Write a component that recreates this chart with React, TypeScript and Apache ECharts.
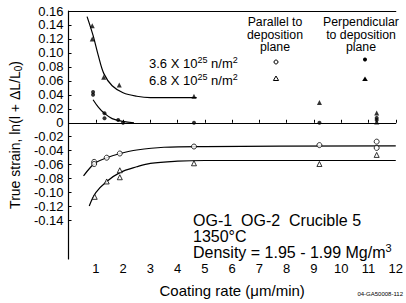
import React, { useEffect, useRef } from "react";
import * as echarts from "echarts";

const FONT = "Liberation Sans, Arial, sans-serif";

const yTicks = [0.16, 0.14, 0.12, 0.1, 0.08, 0.06, 0.04, 0.02, 0, -0.02, -0.04, -0.06, -0.08, -0.1, -0.12, -0.14];
const xTicks = [1, 2, 3, 4, 5, 6, 7, 8, 9, 10, 11, 12];

// Perpendicular to deposition plane, 6.8e25 (filled triangles)
const perp68 = [[0.87, 0.139], [0.87, 0.12], [1.29, 0.065], [1.86, 0.054], [4.6, 0.038], [9.2, 0.029], [11.3, 0.014], [11.3, 0.001]];
// Perpendicular, 3.6e25 (filled circles)
const perp36 = [[0.9, 0.044], [0.9, 0.04], [1.32, 0.0135], [1.32, 0.0065], [1.82, 0.004], [2.0, 0.0], [4.6, 0.0], [9.2, 0.0], [11.3, 0.007], [11.3, 0.004]];
// Parallel, 3.6e25 (open circles)
const par36 = [[0.94, -0.056], [0.94, -0.059], [1.4, -0.05], [1.88, -0.044], [4.6, -0.034], [9.2, -0.032], [11.3, -0.027], [11.3, -0.036]];
// Parallel, 6.8e25 (open triangles)
const par68 = [[0.96, -0.106], [1.4, -0.084], [1.88, -0.068], [1.88, -0.078], [4.6, -0.058], [9.2, -0.059], [11.3, -0.046]];

// Fitted curves
const curvePerp68 = [[0.68, 0.152], [0.9, 0.125], [1.1, 0.095], [1.3, 0.07], [1.6, 0.053], [2.0, 0.043], [2.5, 0.038], [3.0, 0.036], [4.7, 0.036]];
const curvePerp36 = [[0.9, 0.033], [1.1, 0.022], [1.3, 0.014], [1.6, 0.006], [2.0, 0.002], [2.4, 0.0]];
const curvePar36 = [[0.55, -0.076], [0.8, -0.064], [1.0, -0.057], [1.4, -0.05], [1.9, -0.044], [2.5, -0.039], [3.5, -0.035], [5.0, -0.034], [12, -0.033]];
const curvePar68 = [[0.76, -0.119], [1.0, -0.1], [1.4, -0.084], [1.9, -0.071], [2.5, -0.063], [3.0, -0.058], [4.0, -0.055], [5.0, -0.054], [12, -0.054]];

const black = "#000";

function curve(data: number[][]) {
  return {
    type: "line",
    data,
    showSymbol: false,
    smooth: 0.35,
    lineStyle: { color: black, width: 1.2 },
    silent: true,
  };
}

function scatter(data: number[][], symbol: string, filled: boolean, size: number) {
  return {
    type: "scatter",
    data,
    symbol,
    symbolSize: size,
    itemStyle: filled
      ? { color: black }
      : { color: "#fff", borderColor: black, borderWidth: 1 },
    z: 5,
  };
}

export default function App() {
  const ref = useRef<HTMLDivElement>(null);
  useEffect(() => {
    document.body.style.margin = "0";
    const chart = echarts.init(ref.current!, null, { renderer: "svg" });
    const txt = (text: string, x: number, y: number, size: number, align = "left", rich?: any) => ({
      type: "text",
      x,
      y,
      style: {
        text,
        fontSize: size,
        fontFamily: FONT,
        fill: black,
        align,
        verticalAlign: "middle",
        rich,
      },
    });
    const supRich = {
      sup: { fontSize: 9, fontFamily: FONT, padding: [0, 0, 6, 0] },
    };
    const supRich16 = {
      sup: { fontSize: 11, fontFamily: FONT, padding: [0, 0, 8, 0] },
    };
    chart.setOption({
      animation: false,
      grid: { left: 63, right: 6, top: 11, bottom: 35 },
      xAxis: [
        {
          type: "value",
          min: 0,
          max: 12,
          interval: 1,
          name: "Coating rate (\u03bcm/min)",
          nameLocation: "middle",
          nameGap: 24,
          nameTextStyle: { fontSize: 15, fontFamily: FONT, color: black },
          axisLine: { lineStyle: { color: black, width: 1.2 } },
          axisTick: { inside: true, length: 3, lineStyle: { color: black }, customValues: xTicks },
          axisLabel: { fontSize: 13, fontFamily: FONT, color: black, margin: 3, customValues: xTicks },
          splitLine: { show: false },
        },
        {
          type: "value",
          position: "top",
          min: 0,
          max: 12,
          axisLine: { show: true, lineStyle: { color: black, width: 1.2 } },
          axisTick: { show: false },
          axisLabel: { show: false },
          splitLine: { show: false },
        },
      ],
      yAxis: {
        type: "value",
        min: -0.195,
        max: 0.16,
        name: "True strain, ln(l + \u0394L/L{sub|0})",
        nameLocation: "middle",
        nameGap: 44,
        nameTextStyle: {
          fontSize: 14,
          fontFamily: FONT,
          color: black,
          rich: { sub: { fontSize: 10, fontFamily: FONT, color: black, padding: [6, 0, 0, 0] } },
        },
        axisLine: { show: true, lineStyle: { color: black, width: 1.2 } },
        axisTick: { inside: true, length: 3, lineStyle: { color: black }, customValues: yTicks },
        axisLabel: {
          fontSize: 13,
          fontFamily: FONT,
          color: black,
          margin: 5,
          customValues: yTicks,
          formatter: (v: number) => (Math.abs(v) < 1e-9 ? "0" : v.toFixed(2)),
        },
        splitLine: { show: false },
      },
      series: [
        {
          type: "line",
          data: [],
          markLine: {
            silent: true,
            symbol: "none",
            label: { show: false },
            lineStyle: { color: black, width: 1.2, type: "solid" },
            data: [{ yAxis: 0 }],
          },
        },
        curve(curvePerp68),
        curve(curvePerp36),
        curve(curvePar36),
        curve(curvePar68),
        scatter(perp68, "triangle", true, 5),
        scatter(perp36, "circle", true, 4),
        scatter(par36, "circle", false, 5),
        scatter(par68, "triangle", false, 5),
      ],
      graphic: [
        txt("Parallel to", 275, 22, 12.3, "center"),
        txt("deposition", 275, 34.5, 12.3, "center"),
        txt("plane", 275, 47, 12.3, "center"),
        txt("Perpendicular", 361, 22, 12.3, "center"),
        txt("to deposition", 361, 34.5, 12.3, "center"),
        txt("plane", 361, 47, 12.3, "center"),
        txt("3.6 X 10{sup|25} n/m{sup|2}", 149, 63, 13, "left", supRich),
        txt("6.8 X 10{sup|25} n/m{sup|2}", 149, 80, 13, "left", supRich),
        { type: "circle", shape: { cx: 276, cy: 62, r: 2 }, style: { fill: "#fff", stroke: black, lineWidth: 1 } },
        { type: "polygon", shape: { points: [[276, 76], [278.6, 80.5], [273.4, 80.5]] }, style: { fill: "#fff", stroke: black, lineWidth: 1 } },
        { type: "circle", shape: { cx: 365, cy: 59.5, r: 2 }, style: { fill: black } },
        { type: "polygon", shape: { points: [[365, 76.5], [367.8, 81], [362.2, 81]] }, style: { fill: black } },
        txt("OG-1  OG-2  Crucible 5", 193, 220, 16),
        txt("1350\u00b0C", 193, 236, 16),
        txt("Density = 1.95 - 1.99 Mg/m{sup|3}", 193, 252, 16, "left", supRich16),
        txt("04-GA50008-112", 403, 294, 6, "right"),
      ],
    });
    return () => chart.dispose();
  }, []);
  return <div ref={ref} style={{ width: 406, height: 303 }} />;
}
